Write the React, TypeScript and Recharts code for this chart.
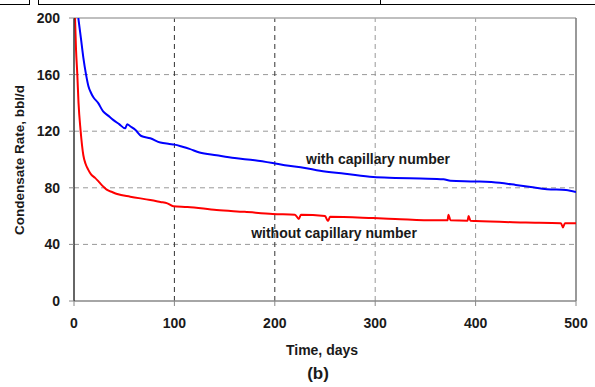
import { LineChart, Line, XAxis, YAxis, CartesianGrid, ReferenceLine } from 'recharts';

// time (days) and condensate rate (bbl/d)
const withTime = [4.3, 7, 9.3, 12, 14.3, 17, 19.3, 24, 29, 34, 39, 45, 51, 53, 56, 61, 67, 76, 86, 95, 100, 108, 115, 125, 142, 160, 180, 198, 210, 230, 245, 270, 298, 320, 345, 368, 375, 400, 424, 440, 455, 471, 490, 500];
const withRate = [200, 185, 172, 160, 152, 147, 144, 140, 134, 131, 128, 125, 122, 125, 123.5, 121, 116.6, 115, 112, 111, 110.5, 109, 107.5, 105, 103, 101, 99.5, 97.5, 96, 94, 92, 90, 87.6, 87, 86.5, 86, 85, 84.5, 83.5, 82, 80.5, 79, 78.5, 77];

const withoutTime = [1, 2, 3.3, 4.5, 6.5, 9.3, 11.5, 14, 17, 21, 25, 29, 33, 38, 43, 56, 76, 86, 93, 99, 113, 142, 170, 198, 220, 224, 226, 250, 253, 255, 298, 320, 360, 372, 373, 375, 392, 393, 395, 400, 450, 485, 487, 489, 500];
const withoutRate = [200, 178, 160, 140, 121, 103, 97, 93, 89.5, 87, 84, 81, 78.5, 77, 75.6, 73.7, 71.4, 70, 69, 67, 66.5, 64.3, 63, 61.5, 61, 58, 61, 60, 56.5, 59.5, 58.6, 58, 57, 57, 61, 57, 56.7, 60, 56.7, 56.5, 55.5, 55, 52, 55, 55];

const xTicks = [0, 100, 200, 300, 400, 500];
const yTicks = [0, 40, 80, 120, 160, 200];

const withData = withTime.map((t, i) => ({ t, v: withRate[i] }));
const withoutData = withoutTime.map((t, i) => ({ t, v: withoutRate[i] }));

const font = '"Liberation Sans", Arial, sans-serif';
const tickStyle = { fontSize: 14, fontWeight: 700, fill: '#1a1a1a', fontFamily: font };

const txt = (x: number, y: number, s: string, size = 14) => (
  <div
    style={{
      position: 'absolute',
      left: x,
      top: y,
      transform: 'translate(-50%, -50%)',
      whiteSpace: 'nowrap',
      fontFamily: font,
      fontWeight: 700,
      fontSize: size,
      color: '#1a1a1a',
    }}
  >
    {s}
  </div>
);

export default function App() {
  return (
    <div style={{ position: 'absolute', left: 0, top: 0, width: 595, height: 387, background: '#fff' }}>
      {/* bits of the table above the figure */}
      <div style={{ position: 'absolute', left: 0, top: 0, width: 29, height: 4, borderRight: '1.5px solid #000', borderBottom: '1.5px solid #000' }} />
      <div style={{ position: 'absolute', left: 38, top: 0, width: 341, height: 4, borderLeft: '1.5px solid #000', borderRight: '1.5px solid #000', borderBottom: '1.5px solid #000' }} />
      <div style={{ position: 'absolute', left: 380, top: 0, width: 215, height: 4, borderBottom: '1.5px solid #000' }} />

      <LineChart width={595} height={387} data={withData} margin={{ top: 18, right: 19, left: 0, bottom: 0 }}>
        <CartesianGrid vertical={false} stroke="#999" strokeDasharray="5 4" horizontalValues={[40, 80, 120, 160]} />
        <ReferenceLine x={100} stroke="#333" strokeDasharray="5 4" />
        <ReferenceLine x={200} stroke="#333" strokeDasharray="5 4" />
        <ReferenceLine x={300} stroke="#999" strokeDasharray="5 4" />
        <ReferenceLine x={400} stroke="#999" strokeDasharray="5 4" />
        <ReferenceLine y={200} stroke="#aaa" strokeWidth={1.5} />
        <ReferenceLine x={500} stroke="#777" strokeWidth={1.5} />
        <XAxis
          dataKey="t"
          type="number"
          domain={[0, 500]}
          ticks={xTicks}
          allowDataOverflow
          height={86}
          tick={tickStyle}
          tickSize={5}
          tickMargin={12}
          stroke="#888"
          axisLine={{ stroke: '#888', strokeWidth: 1.5 }}
        />
        <YAxis
          domain={[0, 200]}
          ticks={yTicks}
          allowDataOverflow
          width={74}
          tick={tickStyle}
          tickSize={5}
          tickMargin={9}
          stroke="#888"
          axisLine={{ stroke: '#333', strokeWidth: 1.5 }}
        />
        <Line data={withoutData} dataKey="v" type="monotone" stroke="#ff0000" strokeWidth={2} dot={false} isAnimationActive={false} />
        <Line data={withData} dataKey="v" type="monotone" stroke="#0000ff" strokeWidth={2} dot={false} isAnimationActive={false} />
      </LineChart>

      {txt(378, 159, 'with capillary number')}
      {txt(334, 233, 'without capillary number')}
      {txt(322, 350, 'Time, days')}
      {txt(318, 374, '(b)', 17)}
      <div
        style={{
          position: 'absolute',
          left: 19,
          top: 160,
          transform: 'translate(-50%, -50%) rotate(-90deg)',
          whiteSpace: 'nowrap',
          fontFamily: font,
          fontWeight: 700,
          fontSize: 13.5,
          color: '#1a1a1a',
        }}
      >
        Condensate Rate, bbl/d
      </div>
    </div>
  );
}
